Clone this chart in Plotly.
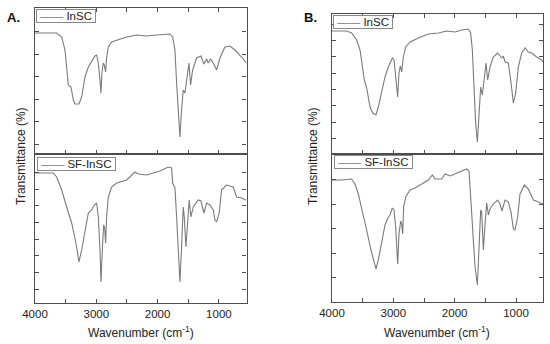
import plotly.graph_objects as go

# ---------------- data (transmittance, arbitrary units) ----------------
a_insc_wn = [4000, 3647, 3565, 3511, 3484, 3457, 3413, 3375, 3348, 3283, 3239, 3185, 3130, 3076, 3022, 2995,
             2967, 2940, 2924, 2908, 2886, 2870, 2848, 2832, 2804, 2750, 2614, 2505, 2342, 2179, 2016, 1799,
             1755, 1717, 1690, 1663, 1636, 1609, 1582, 1554, 1516, 1489, 1462, 1429, 1364, 1293, 1245, 1201,
             1174, 1136, 1092, 1038, 984, 902, 821, 739, 630, 565, 550]
a_insc_t = [121, 121, 117, 104, 87, 69, 67, 54, 50, 50, 57, 77, 87, 92, 98, 99,
            91, 74, 61, 81, 91, 89, 82, 96, 107, 112, 115, 117, 119, 118, 119, 120,
            117, 104, 71, 41, 17, 44, 64, 61, 77, 91, 69, 84, 96, 98, 90, 95,
            91, 95, 91, 84, 96, 107, 108, 104, 97, 92, 91]

a_sf_wn = [4000, 3701, 3647, 3565, 3484, 3402, 3332, 3283, 3239, 3185, 3130, 3076, 3033, 2995, 2967, 2940,
           2924, 2902, 2880, 2864, 2848, 2832, 2804, 2750, 2668, 2505, 2370, 2315, 2179, 2071, 1962, 1826,
           1772, 1755, 1717, 1690, 1663, 1636, 1609, 1582, 1565, 1538, 1511, 1484, 1457, 1419, 1337, 1293,
           1245, 1201, 1147, 1092, 1065, 1038, 995, 957, 875, 766, 712, 630, 565, 550]
a_sf_t = [130, 130, 126, 113, 96, 80, 60, 41, 53, 73, 90, 93, 98, 100, 86, 53,
          21, 53, 78, 75, 60, 86, 106, 116, 120, 123, 131, 129, 128, 130, 132, 136,
          135, 120, 115, 86, 53, 21, 56, 96, 86, 56, 80, 103, 86, 96, 103, 102,
          90, 100, 98, 93, 83, 81, 90, 113, 118, 116, 106, 105, 103, 103]

b_insc_wn = [4000, 3761, 3679, 3598, 3543, 3500, 3473, 3435, 3380, 3337, 3283, 3245, 3190, 3136, 3082, 3016,
             2989, 2962, 2929, 2908, 2886, 2864, 2837, 2799, 2728, 2592, 2429, 2266, 2158, 2130, 1995, 1886,
             1777, 1739, 1712, 1685, 1658, 1630, 1603, 1576, 1549, 1516, 1489, 1462, 1424, 1370, 1299, 1234,
             1207, 1179, 1125, 1087, 1043, 1005, 962, 908, 853, 799, 745, 663, 582, 560]
b_insc_t = [123, 123, 121, 114, 104, 87, 74, 66, 47, 41, 39, 47, 61, 77, 87, 96,
            94, 77, 57, 81, 88, 82, 97, 107, 112, 116, 120, 121, 122, 123, 122, 124,
            125, 121, 104, 71, 31, 12, 44, 67, 59, 74, 91, 74, 87, 97, 101, 96,
            98, 92, 91, 74, 51, 61, 87, 101, 106, 102, 101, 97, 94, 92]

b_sf_wn = [4000, 3842, 3679, 3625, 3571, 3505, 3435, 3364, 3310, 3283, 3245, 3190, 3136, 3082, 3054, 3016,
           2989, 2962, 2929, 2908, 2880, 2864, 2848, 2832, 2799, 2728, 2647, 2538, 2429, 2364, 2321, 2212,
           2158, 2076, 1995, 1886, 1804, 1766, 1734, 1696, 1668, 1630, 1603, 1576, 1560, 1532, 1505, 1478,
           1451, 1424, 1370, 1299, 1261, 1228, 1179, 1125, 1082, 1043, 1016, 973, 935, 864, 799, 717,
           636, 560]
b_sf_t = [122, 122, 123, 118, 108, 92, 72, 52, 38, 33, 42, 58, 77, 85, 87, 94,
          92, 75, 38, 68, 81, 78, 68, 95, 105, 112, 114, 118, 122, 127, 123, 123,
          128, 126, 128, 131, 133, 131, 102, 68, 35, 17, 52, 92, 90, 52, 78, 99,
          87, 93, 98, 102, 98, 91, 102, 100, 90, 73, 72, 85, 108, 117, 113, 102,
          100, 98]

series_names = ["InSC", "SF-InSC"]
x_tickvals = [4000, 3000, 2000, 1000]
x_ticktext = ["4000", "3000", "2000", "1000"]
a_top_yticks = [10, 32.5, 55, 77.5, 100, 122.5]
a_bot_yticks = [14, 30.7, 47.3, 64, 80.7, 97.3, 114, 130.7]
b_top_yticks = [15.7, 32, 48.3, 64.7, 81, 97.3, 113.7, 130]
b_bot_yticks = [24.4, 49, 73.4, 98, 122.4]

# ---------------- layout helpers ----------------
W, H = 550, 344
FONT = "Liberation Sans, Arial, sans-serif"
LINE = "#7a7a7a"
AX = "#4d4d4d"


def fx(p):
    return p / W


def fy(p):
    return 1 - p / H


fig = go.Figure()

traces = [
    (a_insc_wn, a_insc_t, series_names[0], "x", "y"),
    (a_sf_wn, a_sf_t, series_names[1], "x2", "y2"),
    (b_insc_wn, b_insc_t, series_names[0], "x3", "y3"),
    (b_sf_wn, b_sf_t, series_names[1], "x4", "y4"),
]
for xs, ys, name, xa, ya in traces:
    fig.add_trace(go.Scatter(x=xs, y=ys, name=name, mode="lines", xaxis=xa, yaxis=ya,
                             line=dict(color=LINE, width=1.1), showlegend=False))

common = dict(showline=True, linecolor=AX, linewidth=1.3, ticks="inside", ticklen=4,
              tickcolor=AX, tickwidth=1, showgrid=False, zeroline=False)
xminor = dict(dtick=500, tick0=0, ticks="inside", ticklen=4, tickcolor=AX, tickwidth=1,
              showgrid=False)

A_x = (35, 246.5)
B_x = (332, 543)
A_top = (8, 154)
A_bot = (154, 303)
B_top = (14, 154)
B_bot = (154, 302)


def xdom(p):
    return [fx(p[0]), fx(p[1])]


def ydom(p):
    return [fy(p[1]), fy(p[0])]


fig.update_layout(
    width=W, height=H, margin=dict(l=0, r=0, t=0, b=0, autoexpand=False),
    paper_bgcolor="white", plot_bgcolor="white", showlegend=False,
    font=dict(family=FONT, color="#222222", size=11),
    xaxis=dict(domain=xdom(A_x), range=[4000, 550], anchor="y", mirror="ticks",
               tickvals=x_tickvals, showticklabels=False, minor=xminor, **common),
    xaxis2=dict(domain=xdom(A_x), range=[4000, 550], anchor="y2", mirror=True,
                tickvals=x_tickvals, ticktext=x_ticktext, minor=xminor,
                tickfont=dict(size=11.5, color="#222"), **common),
    xaxis3=dict(domain=xdom(B_x), range=[4000, 560], anchor="y3", mirror="ticks",
                tickvals=x_tickvals, showticklabels=False, minor=xminor, **common),
    xaxis4=dict(domain=xdom(B_x), range=[4000, 560], anchor="y4", mirror=True,
                tickvals=x_tickvals, ticktext=x_ticktext, minor=xminor,
                tickfont=dict(size=11.5, color="#222"), **common),
    yaxis=dict(domain=ydom(A_top), range=[0, 146], anchor="x", mirror="ticks",
               tickvals=a_top_yticks, showticklabels=False, **common),
    yaxis2=dict(domain=ydom(A_bot), range=[0, 149], anchor="x2", mirror="ticks",
                tickvals=a_bot_yticks, showticklabels=False, **common),
    yaxis3=dict(domain=ydom(B_top), range=[0, 140], anchor="x3", mirror="ticks",
                tickvals=b_top_yticks, showticklabels=False, **common),
    yaxis4=dict(domain=ydom(B_bot), range=[0, 148], anchor="x4", mirror="ticks",
                tickvals=b_bot_yticks, showticklabels=False, **common),
)

# legend boxes (line sample drawn with em dashes in the series colour)
legends = [
    (series_names[0], 36, 9),
    (series_names[1], 37, 157),
    (series_names[0], 333, 15),
    (series_names[1], 334, 155),
]
for name, lx, ly in legends:
    fig.add_annotation(
        xref="paper", yref="paper", x=fx(lx), y=fy(ly), xanchor="left", yanchor="top",
        showarrow=False, align="left",
        text=f"\u00a0<span style='color:{LINE}'>\u2014\u2014</span>\u00a0{name}\u00a0",
        font=dict(size=11.5, color="#222"), bgcolor="white",
        bordercolor="#888888", borderwidth=1, borderpad=0,
    )

annots = [
    dict(text="<b>A.</b>", x=fx(13), y=fy(17.5), font=dict(size=13, color="#111")),
    dict(text="<b>B.</b>", x=fx(310), y=fy(17.5), font=dict(size=13, color="#111")),
    dict(text="Transmittance (%)", x=fx(21), y=fy(156), textangle=-90, font=dict(size=12)),
    dict(text="Transmittance (%)", x=fx(313), y=fy(156), textangle=-90, font=dict(size=12)),
    dict(text="Wavenumber (cm<sup>-1</sup>)", x=fx(141), y=fy(332), font=dict(size=12)),
    dict(text="Wavenumber (cm<sup>-1</sup>)", x=fx(437), y=fy(332), font=dict(size=12)),
]
for a in annots:
    fig.add_annotation(xref="paper", yref="paper", showarrow=False,
                       xanchor="center", yanchor="middle", **a)

fig.write_html("out.html", config={"displayModeBar": False},
               post_script="document.body.style.margin='0';")
